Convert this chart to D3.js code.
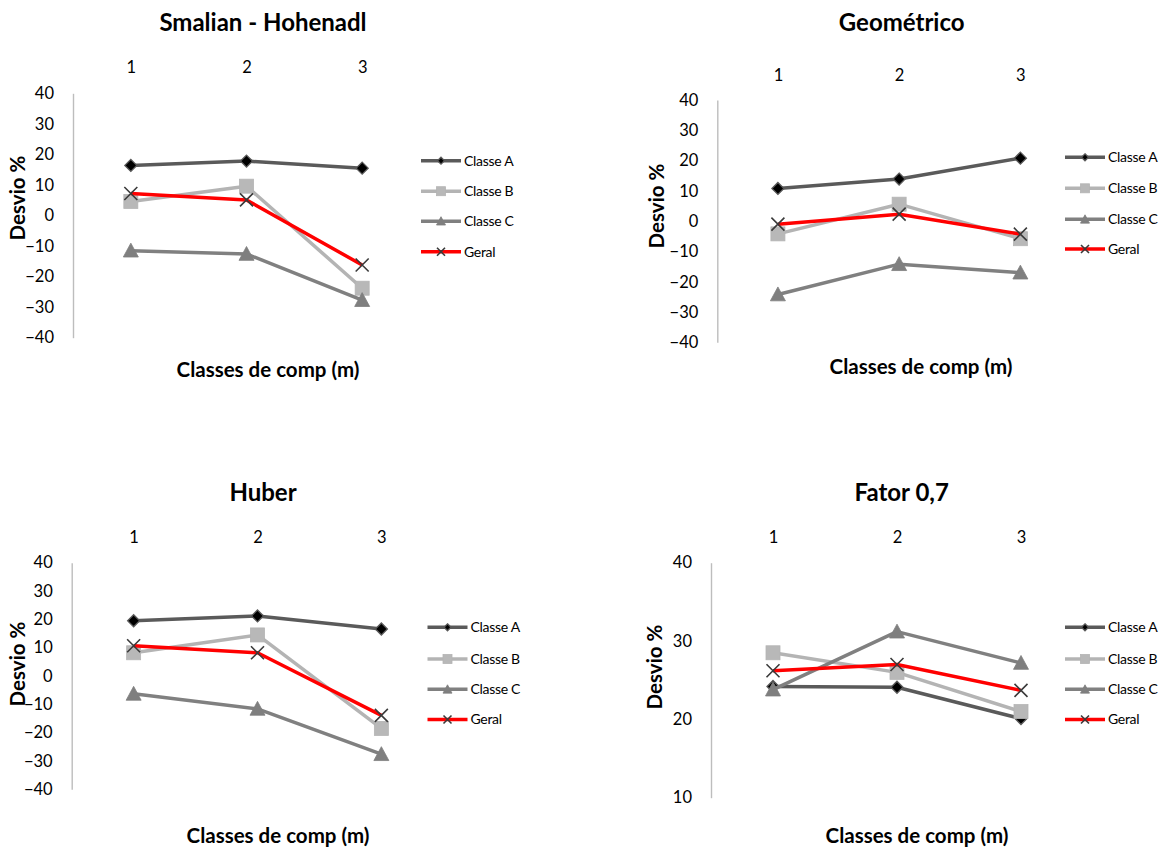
<!DOCTYPE html>
<html>
<head>
<meta charset="utf-8">
<script src="https://cdn.jsdelivr.net/npm/d3@7"></script>
<style>
  html, body { margin: 0; padding: 0; background: #fff; }
  svg { display: block; }
  text { font-family: Lato, "Open Sans", sans-serif; fill: #000; }
</style>
</head>
<body>
<svg id="chart" width="1164" height="847"></svg>
<script>
// ---------- DATA ----------
const categories = ["1", "2", "3"];
const seriesNames = ["Classe A", "Classe B", "Classe C", "Geral"];
const panelTitles = ["Smalian - Hohenadl", "Geométrico", "Huber", "Fator 0,7"];
const xAxisTitle = "Classes de comp (m)";
const yAxisTitle = "Desvio %";

const yTicksDeviation = [-40, -30, -20, -10, 0, 10, 20, 30, 40];
const yTicksFator = [10, 20, 30, 40];

// Smalian - Hohenadl
const smalianA = [16.4, 17.8, 15.5];
const smalianB = [4.6, 9.6, -23.8];
const smalianC = [-11.5, -12.6, -27.7];
const smalianGeral = [7.2, 5.1, -16.2];

// Geométrico
const geometricoA = [10.8, 13.9, 20.8];
const geometricoB = [-4.2, 5.6, -5.8];
const geometricoC = [-24.2, -14.2, -17.0];
const geometricoGeral = [-1.0, 2.3, -4.3];

// Huber
const huberA = [19.5, 21.2, 16.6];
const huberB = [8.2, 14.5, -18.5];
const huberC = [-6.3, -11.6, -27.6];
const huberGeral = [10.7, 8.2, -13.9];

// Fator 0,7
const fatorA = [24.2, 24.1, 20.1];
const fatorB = [28.5, 26.0, 21.0];
const fatorC = [23.8, 31.2, 27.2];
const fatorGeral = [26.2, 27.0, 23.7];

// ---------- STYLE / LAYOUT ----------
const seriesStyle = [
  { line: "#5a5a5a", marker: "diamond", fill: "#000", stroke: "#5a5a5a" },
  { line: "#b4b4b4", marker: "square", fill: "#b8b8b8", stroke: "#b4b4b4" },
  { line: "#808080", marker: "triangle", fill: "#7f7f7f", stroke: "#7f7f7f" },
  { line: "#ff0000", marker: "x", fill: "none", stroke: "#3a3a3a" }
];

const panels = [
  { title: panelTitles[0], series: [smalianA, smalianB, smalianC, smalianGeral], domain: [-40, 40], ticks: yTicksDeviation,
    axisX: 73, xEnd: 420, yTop: 93.3, yBot: 337.7, titleX: 263, titleY: 31, catY: 73, xtX: 268, xtY: 377, ytX: 25, ytY: 198,
    legX: 421, legY: [160.7, 191.2, 221.2, 251.7] },
  { title: panelTitles[1], series: [geometricoA, geometricoB, geometricoC, geometricoGeral], domain: [-40, 40], ticks: yTicksDeviation,
    axisX: 717.3, xEnd: 1081, yTop: 100, yBot: 342.3, titleX: 901.7, titleY: 31, catY: 80.5, xtX: 921, xtY: 374, ytX: 664, ytY: 206,
    legX: 1065, legY: [157.3, 188.3, 219.3, 249] },
  { title: panelTitles[2], series: [huberA, huberB, huberC, huberGeral], domain: [-40, 40], ticks: yTicksDeviation,
    axisX: 71.7, xEnd: 443.3, yTop: 562.7, yBot: 789.3, titleX: 263, titleY: 501, catY: 542.5, xtX: 278, xtY: 843, ytX: 25, ytY: 664,
    legX: 427.5, legY: [627.3, 659, 689.3, 719.5] },
  { title: panelTitles[3], series: [fatorA, fatorB, fatorC, fatorGeral], domain: [10, 40], ticks: yTicksFator,
    axisX: 711, xEnd: 1083, yTop: 562.7, yBot: 797.7, titleX: 901.7, titleY: 501, catY: 542.5, xtX: 917, xtY: 843, ytX: 662, ytY: 667,
    legX: 1065, legY: [627.3, 659, 689.3, 719.5] }
];

// ---------- DRAW ----------
const svg = d3.select("#chart");

function drawMarker(g, type, x, y, size, st) {
  const s = size / 2;
  if (type === "diamond") {
    g.append("path").attr("d", `M${x},${y - s}L${x + s},${y}L${x},${y + s}L${x - s},${y}Z`)
      .attr("fill", st.fill).attr("stroke", st.stroke).attr("stroke-width", 1.3);
  } else if (type === "square") {
    g.append("rect").attr("x", x - s).attr("y", y - s).attr("width", size).attr("height", size)
      .attr("fill", st.fill).attr("stroke", st.stroke).attr("stroke-width", 0.8);
  } else if (type === "triangle") {
    g.append("path").attr("d", `M${x},${y - s}L${x + s},${y + s * 0.85}L${x - s},${y + s * 0.85}Z`)
      .attr("fill", st.fill).attr("stroke", st.stroke).attr("stroke-width", 0.8);
  } else if (type === "x") {
    g.append("path").attr("d", `M${x - s},${y - s}L${x + s},${y + s}M${x - s},${y + s}L${x + s},${y - s}`)
      .attr("fill", "none").attr("stroke", st.stroke).attr("stroke-width", 1.6);
  }
}

const markerSize = { diamond: 12, square: 14, triangle: 15, x: 13 };
const legendMarkerSize = { diamond: 7, square: 9, triangle: 9, x: 8 };

panels.forEach(p => {
  const g = svg.append("g");
  const x = d3.scalePoint().domain(categories).range([p.axisX, p.xEnd]).padding(0.5);
  const y = d3.scaleLinear().domain(p.domain).range([p.yBot, p.yTop]);

  // Title
  g.append("text").attr("x", p.titleX).attr("y", p.titleY).attr("text-anchor", "middle")
    .attr("font-size", 24).attr("font-weight", "bold").text(p.title);

  // Y axis
  const yAxis = d3.axisLeft(y).tickValues(p.ticks).tickSize(0).tickPadding(19).tickFormat(d3.format("d"));
  const ya = g.append("g").attr("transform", `translate(${p.axisX},0)`).call(yAxis);
  ya.select(".domain").attr("stroke", "#bdbdbd").attr("stroke-width", 1.4);
  ya.selectAll("text").attr("font-size", 16.5).attr("font-family", "Lato, sans-serif").attr("fill", "#1a1a1a");

  // Category axis at top (labels only)
  const xAxis = d3.axisTop(x).tickSize(0).tickPadding(0);
  const xa = g.append("g").attr("transform", `translate(0,${p.catY})`).call(xAxis);
  xa.select(".domain").remove();
  xa.selectAll("text").attr("font-size", 16.5).attr("font-family", "Lato, sans-serif").attr("fill", "#1a1a1a").attr("dy", 0);

  // Axis titles
  g.append("text").attr("x", p.xtX).attr("y", p.xtY).attr("text-anchor", "middle")
    .attr("font-size", 20.5).attr("font-weight", "bold").text(xAxisTitle);
  g.append("text").attr("transform", `translate(${p.ytX},${p.ytY}) rotate(-90)`).attr("text-anchor", "middle")
    .attr("font-size", 20.5).attr("font-weight", "bold").text(yAxisTitle);

  // Series
  const line = d3.line().x((d, i) => x(categories[i])).y(d => y(d));
  p.series.forEach((vals, si) => {
    const st = seriesStyle[si];
    const sg = g.append("g");
    sg.append("path").datum(vals).attr("d", line).attr("fill", "none")
      .attr("stroke", st.line).attr("stroke-width", 3.5).attr("stroke-linejoin", "round");
    vals.forEach((v, i) => drawMarker(sg, st.marker, x(categories[i]), y(v), markerSize[st.marker], st));
  });

  // Legend
  seriesNames.forEach((name, si) => {
    const st = seriesStyle[si];
    const ly = p.legY[si];
    const lg = g.append("g");
    lg.append("line").attr("x1", p.legX).attr("x2", p.legX + 40).attr("y1", ly).attr("y2", ly)
      .attr("stroke", st.line).attr("stroke-width", 3.5);
    drawMarker(lg, st.marker, p.legX + 20, ly, legendMarkerSize[st.marker], st);
    lg.append("text").attr("x", p.legX + 43).attr("y", ly + 4.8).attr("font-size", 14)
      .attr("letter-spacing", -0.3).text(name);
  });
});
</script>
</body>
</html>
